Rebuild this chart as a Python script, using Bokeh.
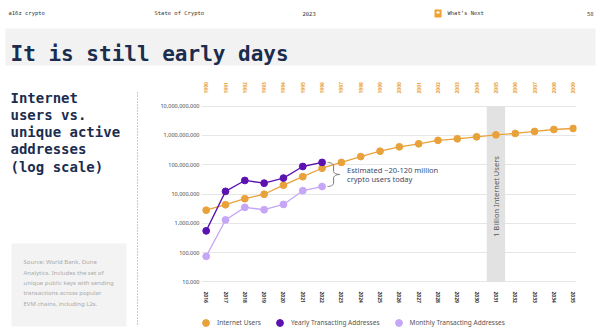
import numpy as np
from bokeh.plotting import figure
from bokeh.layouts import column, row
from bokeh.models import (Range1d, LinearAxis, FixedTicker, NumeralTickFormatter,
                          PrintfTickFormatter, Legend, LegendItem)
from bokeh.core.properties import value
from bokeh.embed import file_html
from bokeh.resources import INLINE

# ---------------- data ----------------
years = list(range(2016, 2036))
internet_years = list(range(1990, 2010))
internet_users = [2.8e6, 4.3e6, 6.9e6, 9.8e6, 20e6, 39e6, 76e6, 120e6, 190e6, 290e6,
                  410e6, 520e6, 680e6, 770e6, 900e6, 1.05e9, 1.17e9, 1.37e9, 1.6e9, 1.73e9]
crypto_years = list(range(2016, 2023))
yearly_addresses = [0.55e6, 12.3e6, 29e6, 23.5e6, 35e6, 87e6, 120e6]
monthly_addresses = [74e3, 1.3e6, 3.5e6, 2.9e6, 4.4e6, 13e6, 18e6]
y_ticks = [1e4, 1e5, 1e6, 1e7, 1e8, 1e9, 1e10]
milestone_year = 2031
milestone_label = "1 Billion Internet Users"
series_names = ["Internet Users", "Yearly Transacting Addresses", "Monthly Transacting Addresses"]
annotation_lines = ["Estimated ~20-120 million", "crypto users today"]
title_text = "It is still early days"
header_texts = ["a16z crypto", "State of Crypto", "2023", "What\u2019s Next", "58"]
heading_lines = ["Internet", "users vs.", "unique active", "addresses", "(log scale)"]
source_lines = ["Source: World Bank, Dune", "Analytics. Includes the set of",
                "unique public keys with sending", "transactions across popular",
                "EVM chains, including L2s."]

# ---------------- style ----------------
ORANGE = "#e9a23b"
DARK = "#5b12b0"
LIGHT = "#c6a6f6"
NAVY = "#1b2d4f"
SANS = "Noto Sans"
MONO = "DejaVu Sans Mono"


def deco_fig(w, h, x0, y0):
    f = figure(width=w, height=h, output_backend="svg", toolbar_location=None,
               x_range=Range1d(x0, x0 + w), y_range=Range1d(y0 + h, y0),
               min_border=0, outline_line_color=None, x_axis_location=None,
               y_axis_location=None, background_fill_color="white",
               border_fill_color="white")
    f.grid.visible = False
    return f


def txt(f, s, x, y, size, color, font, style="normal", align="left", baseline="middle"):
    f.text(x=[x], y=[y], text=[s], text_font_size=f"{size}px", text_color=color,
           text_font=value(font), text_font_style=style, text_align=align,
           text_baseline=baseline)


# ---------------- header ----------------
hdr = deco_fig(600, 70, 0, 0)
hdr.quad(left=[5], right=[595], top=[28], bottom=[65], fill_color="#f2f2f2", line_color=None)
hdr.quad(left=[434], right=[441], top=[9], bottom=[17], fill_color="#f0a030", line_color=None)
hdr.quad(left=[436], right=[439], top=[11], bottom=[13], fill_color="white", line_color=None)
for s, x, al in zip(header_texts, [8, 154, 302, 447, 593],
                    ["left", "left", "left", "left", "right"]):
    txt(hdr, s, x, 12.5, 5.5, "#333333", MONO, align=al)
txt(hdr, title_text, 10, 53, 21, NAVY, MONO, style="bold", baseline="alphabetic")

# ---------------- left panel ----------------
lft = deco_fig(140, 262, 0, 70)
for i, line in enumerate(heading_lines):
    txt(lft, line, 10, 97 + 17.3 * i, 14, NAVY, MONO, style="bold")
lft.quad(left=[11], right=[126], top=[243], bottom=[326], fill_color="#f3f3f3", line_color=None)
for i, line in enumerate(source_lines):
    txt(lft, line, 23, 261.7 + 10.4 * i, 6, "#aaaaaa", SANS)
lft.segment(x0=[137], y0=[92], x1=[137], y1=[326], line_color="#999999",
            line_width=1, line_dash="1 2")

# ---------------- main chart ----------------
X0, X1 = 2015.757, 2035.171
p = figure(width=460, height=243, output_backend="svg", toolbar_location=None,
           x_range=Range1d(X0, X1),
           y_range=Range1d(10 ** 3.976, 10 ** 10.024), y_axis_type="log",
           min_border_left=61, min_border_right=24, min_border_top=35,
           min_border_bottom=31, outline_line_color=None,
           background_fill_color="white", border_fill_color="white")

xa = p.xaxis[0]
xa.ticker = FixedTicker(ticks=years)
xa.formatter = PrintfTickFormatter(format="%d")
xa.major_label_orientation = "vertical"
xa.major_label_text_font_size = "5px"
xa.major_label_text_font_style = "bold"
xa.major_label_text_color = "#333333"
xa.major_label_text_font = SANS
xa.axis_line_color = None
xa.major_tick_line_color = None
xa.major_tick_out = 0
xa.minor_tick_line_color = None
xa.major_label_standoff = 9

p.extra_x_ranges = {"top": Range1d(X0 - 26, X1 - 26)}
ta = LinearAxis(x_range_name="top", ticker=FixedTicker(ticks=internet_years),
                formatter=PrintfTickFormatter(format="%d"))
ta.major_label_orientation = "vertical"
ta.major_label_text_font_size = "5px"
ta.major_label_text_font_style = "bold"
ta.major_label_text_color = ORANGE
ta.major_label_text_font = SANS
ta.axis_line_color = None
ta.major_tick_line_color = None
ta.major_tick_out = 0
ta.minor_tick_line_color = None
ta.major_label_standoff = 12
p.add_layout(ta, "above")

ya = p.yaxis[0]
ya.ticker = FixedTicker(ticks=y_ticks)
ya.formatter = NumeralTickFormatter(format="0,0")
ya.major_label_text_font_size = "5.5px"
ya.major_label_text_color = "#444444"
ya.major_label_text_font = SANS
ya.axis_line_color = None
ya.major_tick_line_color = None
ya.major_tick_out = 0
ya.minor_tick_line_color = None
ya.major_label_standoff = 2

p.xgrid.visible = False
p.ygrid.grid_line_color = "#e6e6e6"
p.ygrid.ticker = FixedTicker(ticks=y_ticks)

# milestone band
p.vbar(x=[milestone_year], width=0.95, bottom=[y_ticks[0]], top=[y_ticks[-1]],
       fill_color="#e2e2e2", line_color=None)
p.text(x=[milestone_year], y=[8.2e6], text=[milestone_label], angle=np.pi / 2,
       text_align="center", text_baseline="middle", text_font_size="7.5px",
       text_color="#555555", text_font=value(SANS))

# series
p.line(years, internet_users, color=ORANGE, line_width=1.3)
p.scatter(years, internet_users, size=6.8, color=ORANGE)
p.line(crypto_years, monthly_addresses, color=LIGHT, line_width=1.3)
p.scatter(crypto_years, monthly_addresses, size=6.8, color=LIGHT)
p.line(crypto_years, yearly_addresses, color=DARK, line_width=1.3)
p.scatter(crypto_years, yearly_addresses, size=6.8, color=DARK)

# brace between the 2022 crypto values
yt = np.log10(yearly_addresses[-1])
yb = np.log10(monthly_addresses[-1])
PX_DEC = 177 / 6.048
PX_YR = 375 / (X1 - X0)
Hpx = (yt - yb) * PX_DEC
rx, ry = 6.0, 3.5
t = np.linspace(0, np.pi / 2, 12)
u = np.concatenate([rx * np.sin(t), [rx, rx], 2 * rx - rx * np.cos(t),
                    2 * rx - rx * np.sin(t), [rx, rx], rx * np.cos(t)])
v = np.concatenate([ry - ry * np.cos(t), [ry, Hpx / 2 - ry], Hpx / 2 - ry + ry * np.sin(t),
                    Hpx / 2 + ry - ry * np.cos(t), [Hpx / 2 + ry, Hpx - ry],
                    Hpx - ry + ry * np.sin(t)])
bx = crypto_years[-1] + (5.5 + u) / PX_YR
by = 10 ** (yt - v / PX_DEC)
p.line(bx, by, color="#777777", line_width=1)

ymid = 10 ** ((yt + yb) / 2)
p.text(x=[crypto_years[-1]] * 2, y=[ymid, ymid], text=annotation_lines,
       x_offset=25, y_offset=[-4.6, 4.6], text_baseline="middle", text_align="left",
       text_font_size="7.5px", text_color="#3a4a6e", text_font=value(SANS))

# ---------------- legend strip ----------------
leg = figure(width=460, height=19, output_backend="svg", toolbar_location=None,
             x_range=Range1d(0, 1), y_range=Range1d(0, 1), min_border=0,
             min_border_left=61, min_border_right=24,
             outline_line_color=None, x_axis_location=None, y_axis_location=None,
             background_fill_color="white", border_fill_color="white")
leg.grid.visible = False
items = []
for name, col in zip(series_names, [ORANGE, DARK, LIGHT]):
    # legend key only: one point placed outside the visible strip
    r = leg.scatter(x=[-5], y=[-5], size=6.8, color=col)
    items.append(LegendItem(label=name, renderers=[r]))
legend = Legend(items=items, location=(-4, 1.5), orientation="horizontal", padding=0,
                margin=0, spacing=10, glyph_width=17, glyph_height=17, label_height=17,
                label_standoff=3, label_text_font_size="6.5px", label_text_color="#555555",
                label_text_font=SANS, border_line_color=None, background_fill_alpha=0)
leg.add_layout(legend)

layout = column(hdr, row(lft, column(p, leg, spacing=0), spacing=0), spacing=0)

open("out.html", "w").write(file_html(layout, INLINE))
